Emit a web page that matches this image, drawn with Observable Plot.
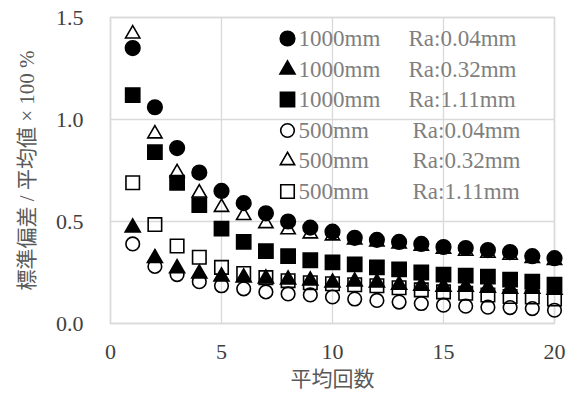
<!DOCTYPE html>
<html>
<head>
<meta charset="utf-8">
<script src="https://cdn.jsdelivr.net/npm/d3@7"></script>
<script src="https://cdn.jsdelivr.net/npm/@observablehq/plot@0.6"></script>
<style>
  html, body { margin: 0; padding: 0; background: #fff; }
</style>
</head>
<body>
<div id="chart"></div>
<script>
// averaging count (x)
const counts = [1,2,3,4,5,6,7,8,9,10,11,12,13,14,15,16,17,18,19,20];

// std / mean x 100 % for each series
const s1000_004 = [1.35,1.06,0.86,0.74,0.65,0.59,0.54,0.50,0.47,0.45,0.42,0.41,0.40,0.39,0.375,0.37,0.36,0.35,0.33,0.32];
const s1000_032 = [0.47,0.32,0.27,0.245,0.23,0.225,0.22,0.215,0.21,0.20,0.205,0.20,0.19,0.185,0.18,0.18,0.175,0.17,0.17,0.165];
const s1000_111 = [1.12,0.84,0.69,0.58,0.465,0.40,0.355,0.33,0.31,0.30,0.29,0.275,0.265,0.25,0.24,0.235,0.23,0.215,0.205,0.19];
const s500_004  = [0.39,0.28,0.24,0.205,0.185,0.17,0.155,0.145,0.14,0.13,0.12,0.113,0.105,0.098,0.09,0.085,0.08,0.078,0.073,0.065];
const s500_032  = [1.42,0.93,0.74,0.64,0.57,0.53,0.49,0.46,0.44,0.43,0.41,0.40,0.39,0.38,0.365,0.355,0.345,0.335,0.32,0.31];
const s500_111  = [0.69,0.485,0.38,0.325,0.275,0.245,0.225,0.21,0.20,0.195,0.19,0.185,0.175,0.165,0.155,0.148,0.14,0.132,0.13,0.12];

const seriesNames = ["1000mm","1000mm","1000mm","500mm","500mm","500mm"];
const seriesRa    = ["Ra:0.04mm","Ra:0.32mm","Ra:1.11mm","Ra:0.04mm","Ra:0.32mm","Ra:1.11mm"];

const xTicks = [0,5,10,15,20];
const yTicks = [0,0.5,1.0,1.5];
const xTitle = "平均回数";
const yTitle = "標準偏差 / 平均値 × 100 %";

// styling (not data)
const styles = [
  {symbol:"circle",   r:7.3, fill:"black", stroke:"black"},
  {symbol:"triangle", r:5.6, fill:"black", stroke:"black"},
  {symbol:"square",   r:8.0, fill:"black", stroke:"black"},
  {symbol:"circle",   r:6.8, fill:"none",  stroke:"black"},
  {symbol:"triangle", r:5.3, fill:"none",  stroke:"black"},
  {symbol:"square",   r:7.6, fill:"none",  stroke:"black"}
];
const allSeries = [s1000_004, s1000_032, s1000_111, s500_004, s500_032, s500_111];

const gridColor = "#d9d9d9";
const serif = "Liberation Serif, Times New Roman, DejaVu Serif, serif";
const cjk = "Liberation Serif, Noto Sans CJK JP, serif";

const ml = 110, mt = 17;
const legendRowsY = [38, 69, 99, 130, 160, 191];
const legendRaX = [408, 408, 408, 412, 412, 412];

const marks = [
  Plot.ruleX(xTicks, {stroke: gridColor, strokeWidth: 1.3}),
  Plot.ruleY(yTicks, {stroke: gridColor, strokeWidth: 1.3}),
  Plot.frame({stroke: gridColor, strokeWidth: 1.5})
];

allSeries.forEach((vals, i) => {
  const st = styles[i];
  marks.push(Plot.dot(counts, {
    x: d => d,
    y: (d, j) => vals[j],
    symbol: st.symbol,
    r: st.r,
    fill: st.fill,
    stroke: st.stroke,
    strokeWidth: 1.6
  }));
});

// legend
seriesNames.forEach((name, i) => {
  const st = styles[i];
  const dy = legendRowsY[i] - mt;
  marks.push(Plot.dot([name], {
    frameAnchor: "top-left", dx: 287 - ml, dy,
    symbol: st.symbol, r: st.r, fill: st.fill, stroke: st.stroke, strokeWidth: 1.6
  }));
  marks.push(Plot.text([name], {
    frameAnchor: "top-left", dx: 298 - ml, dy, text: d => d,
    textAnchor: "start", lineAnchor: "middle", fill: "#7f7f7f",
    fontSize: 23, fontFamily: serif
  }));
  marks.push(Plot.text([seriesRa[i]], {
    frameAnchor: "top-left", dx: legendRaX[i] - ml, dy, text: d => d,
    textAnchor: "start", lineAnchor: "middle", fill: "#7f7f7f",
    fontSize: 23, fontFamily: serif
  }));
});

// axis titles
marks.push(Plot.text([yTitle], {
  frameAnchor: "left", dx: -83, rotate: -90, text: d => d,
  textAnchor: "middle", lineAnchor: "middle",
  fill: "#595959", fontSize: 21, fontFamily: cjk
}));
marks.push(Plot.text([xTitle], {
  frameAnchor: "bottom", dy: 56, text: d => d,
  textAnchor: "middle", lineAnchor: "middle",
  fill: "#595959", fontSize: 21, fontFamily: "Noto Sans CJK JP, sans-serif"
}));

const chart = Plot.plot({
  width: 573,
  height: 396,
  marginLeft: ml,
  marginRight: 19,
  marginTop: mt,
  marginBottom: 73,
  style: {fontSize: "22px", fontFamily: serif, color: "#404040", background: "#fff", overflow: "visible"},
  x: {domain: [0, 20], ticks: xTicks, tickSize: 0, tickPadding: 20, tickFormat: d => String(d), label: null},
  y: {domain: [0, 1.5], ticks: yTicks, tickSize: 0, tickPadding: 27, tickFormat: d3.format(".1f"), label: null},
  marks
});
document.getElementById("chart").appendChild(chart);
</script>
</body>
</html>
